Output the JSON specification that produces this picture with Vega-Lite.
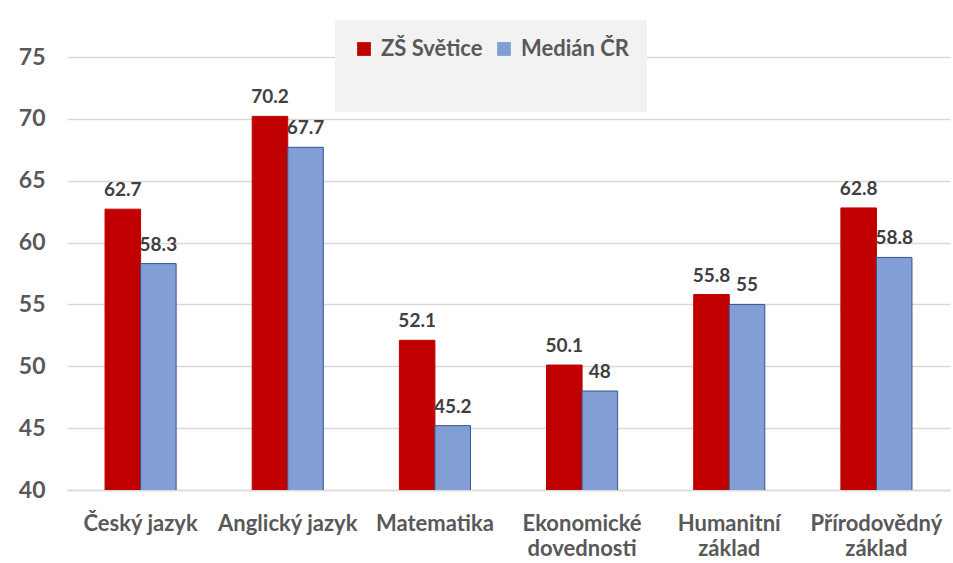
{
  "$schema": "https://vega.github.io/schema/vega-lite/v6.json",
  "width": 883,
  "height": 433,
  "autosize": {"type": "none"},
  "padding": {"left": 67, "top": 57, "right": 3, "bottom": 73},
  "background": "white",
  "config": {
    "view": {"stroke": null},
    "font": "Lato"
  },
  "data": {
    "values": [
      {"predmet": "Český jazyk", "serie": "ZŠ Světice", "hodnota": 62.7},
      {"predmet": "Český jazyk", "serie": "Medián ČR", "hodnota": 58.3},
      {"predmet": "Anglický jazyk", "serie": "ZŠ Světice", "hodnota": 70.2},
      {"predmet": "Anglický jazyk", "serie": "Medián ČR", "hodnota": 67.7},
      {"predmet": "Matematika", "serie": "ZŠ Světice", "hodnota": 52.1},
      {"predmet": "Matematika", "serie": "Medián ČR", "hodnota": 45.2},
      {"predmet": "Ekonomické dovednosti", "serie": "ZŠ Světice", "hodnota": 50.1},
      {"predmet": "Ekonomické dovednosti", "serie": "Medián ČR", "hodnota": 48},
      {"predmet": "Humanitní základ", "serie": "ZŠ Světice", "hodnota": 55.8},
      {"predmet": "Humanitní základ", "serie": "Medián ČR", "hodnota": 55},
      {"predmet": "Přírodovědný základ", "serie": "ZŠ Světice", "hodnota": 62.8},
      {"predmet": "Přírodovědný základ", "serie": "Medián ČR", "hodnota": 58.8}
    ]
  },
  "encoding": {
    "x": {
      "field": "predmet",
      "type": "nominal",
      "sort": null,
      "scale": {"paddingInner": 0.517, "paddingOuter": 0.2585},
      "axis": {
        "title": null,
        "labelAngle": 0,
        "labelFontSize": 22,
        "labelFontWeight": "bold",
        "labelColor": "#595959",
        "labelPadding": 33,
        "labelLineHeight": 25,
        "labelBaseline": "middle",
        "ticks": false,
        "domainColor": "#d9d9d9",
        "domainWidth": 1.5,
        "labelExpr": "indexof(datum.label, 'jazyk') >= 0 || datum.label == 'Matematika' ? datum.label : split(datum.label, ' ')"
      }
    },
    "xOffset": {
      "field": "serie",
      "type": "nominal",
      "sort": ["ZŠ Světice", "Medián ČR"],
      "scale": {"paddingInner": 0, "paddingOuter": 0}
    },
    "y": {
      "field": "hodnota",
      "type": "quantitative",
      "scale": {"domain": [40, 75], "nice": false, "zero": false},
      "axis": {
        "title": null,
        "values": [40, 45, 50, 55, 60, 65, 70, 75],
        "labelFontSize": 23,
        "labelFontWeight": "bold",
        "labelColor": "#595959",
        "labelPadding": 22,
        "ticks": false,
        "domain": false,
        "gridColor": "#d9d9d9",
        "gridWidth": 1.5
      }
    }
  },
  "layer": [
    {
      "mark": {"type": "bar", "clip": true},
      "encoding": {
        "color": {
          "field": "serie",
          "type": "nominal",
          "sort": ["ZŠ Světice", "Medián ČR"],
          "scale": {"domain": ["ZŠ Světice", "Medián ČR"], "range": ["#c00000", "#819fd4"]},
          "legend": {
            "title": "\u00a0",
            "titleOrient": "bottom",
            "titleFontSize": 34,
            "titlePadding": 0,
            "orient": "none",
            "legendX": 268,
            "legendY": -37,
            "direction": "horizontal",
            "fillColor": "#f2f2f2",
            "padding": 18,
            "symbolType": "square",
            "symbolSize": 190,
            "symbolStrokeWidth": 0,
            "labelFontSize": 22,
            "labelFontWeight": "bold",
            "labelColor": "#595959",
            "labelOffset": 6,
            "columnPadding": 10
          }
        },
        "stroke": {
          "field": "serie",
          "type": "nominal",
          "scale": {"domain": ["ZŠ Světice", "Medián ČR"], "range": ["#c00000", "#34548f"]},
          "legend": null
        },
        "strokeWidth": {"value": 1}
      }
    },
    {
      "mark": {"type": "text", "baseline": "bottom", "dy": -9, "fontSize": 19, "fontWeight": "bold", "color": "#404040"},
      "encoding": {
        "text": {"field": "hodnota", "type": "quantitative"}
      }
    }
  ]
}
